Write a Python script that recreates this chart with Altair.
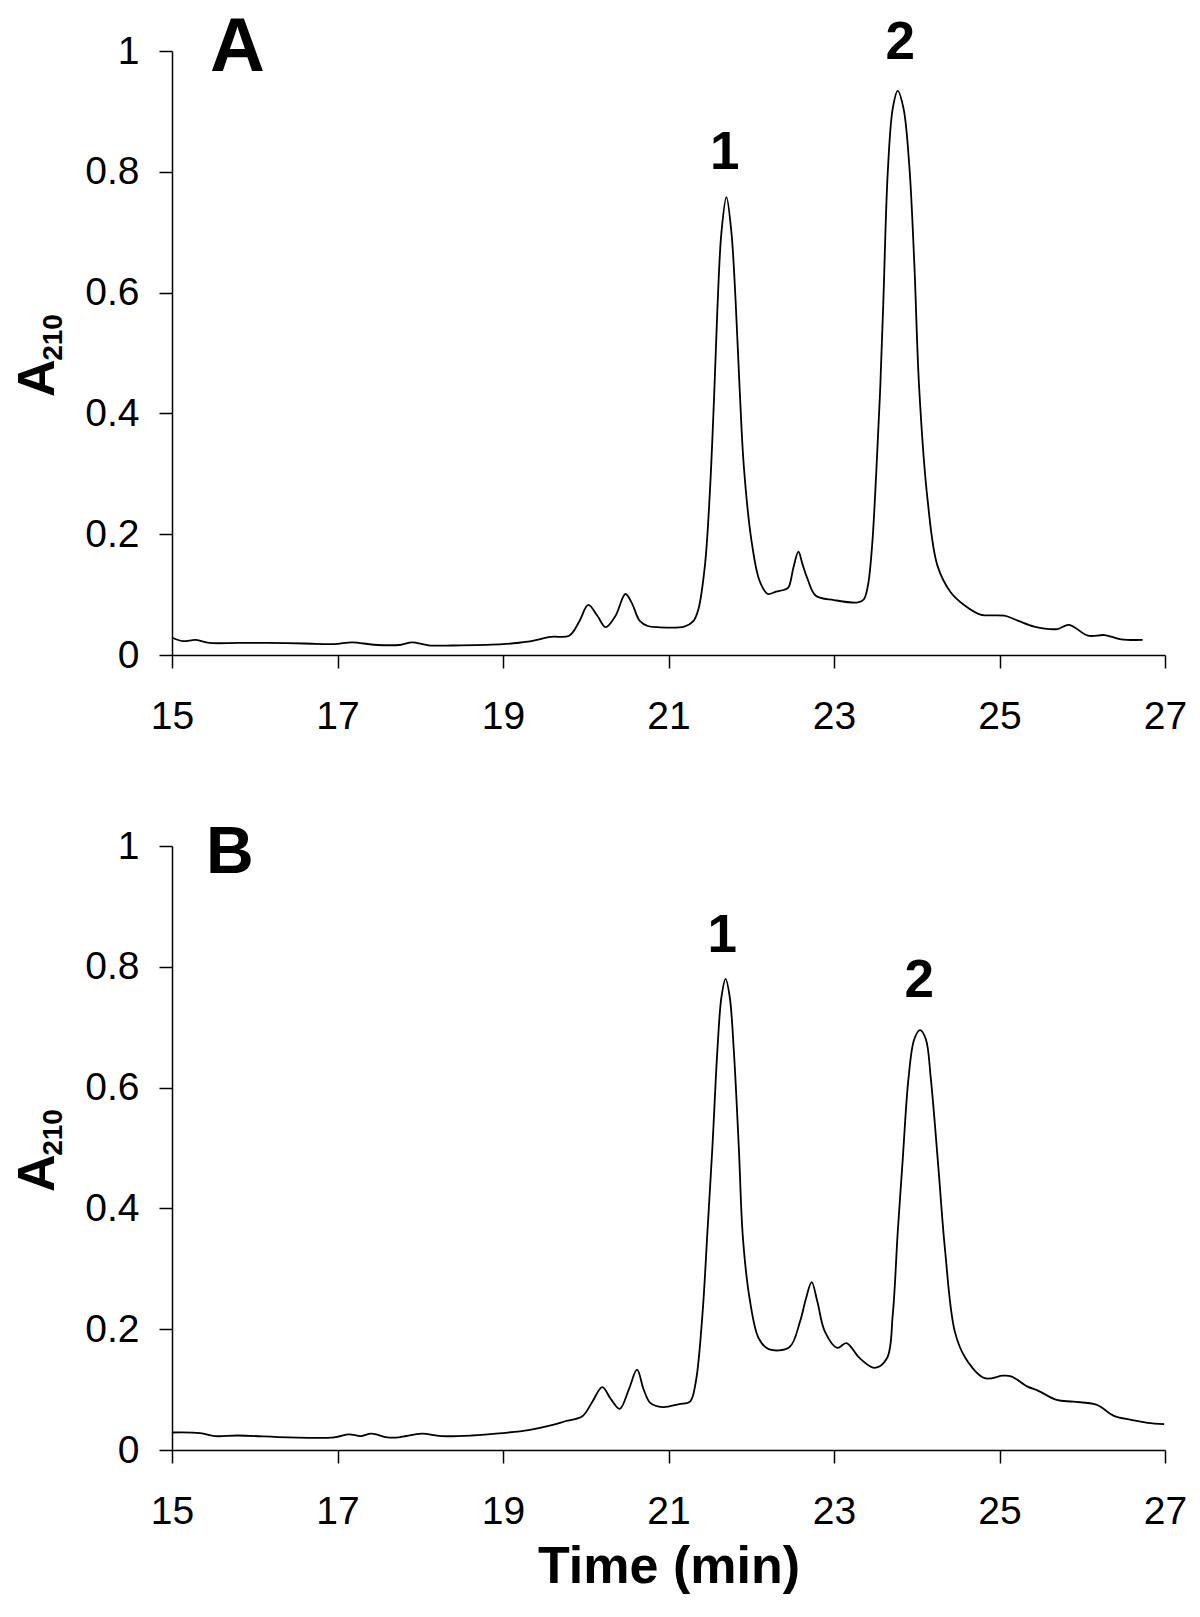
import altair as alt
import pandas as pd

# ---------------- data ----------------
XTICKS = [15, 17, 19, 21, 23, 25, 27]
YTICKS = [0, 0.2, 0.4, 0.6, 0.8, 1.0]

time_A = [15.00, 15.13, 15.29, 15.45, 15.80, 16.16, 16.60, 16.96, 17.18, 17.44, 17.77, 17.90,
          18.10, 18.50, 19.00, 19.30, 19.58, 19.80, 19.92, 20.03, 20.14, 20.24, 20.36, 20.48,
          20.56, 20.65, 20.75, 20.87, 21.19, 21.30, 21.36, 21.44, 21.50, 21.55, 21.59, 21.64,
          21.70, 21.76, 21.81, 21.86, 21.91, 22.00, 22.10, 22.20, 22.30, 22.40, 22.45, 22.51,
          22.57, 22.62, 22.68, 22.78, 23.00, 23.29, 23.36, 23.41, 23.46, 23.51, 23.555, 23.595,
          23.65, 23.71, 23.77, 23.84, 23.91, 23.97, 24.03, 24.13, 24.25, 24.41, 24.58, 24.77,
          25.06, 25.22, 25.42, 25.70, 25.84, 26.07, 26.27, 26.47, 26.73]
abs_A = [0.029, 0.023, 0.025, 0.020, 0.020, 0.020, 0.019, 0.018, 0.021, 0.017, 0.017, 0.021,
         0.016, 0.016, 0.018, 0.022, 0.030, 0.032, 0.055, 0.083, 0.065, 0.046, 0.065, 0.101,
         0.085, 0.057, 0.048, 0.046, 0.047, 0.056, 0.075, 0.148, 0.270, 0.424, 0.570, 0.700,
         0.758, 0.700, 0.589, 0.440, 0.313, 0.192, 0.123, 0.101, 0.105, 0.108, 0.112, 0.145,
         0.171, 0.150, 0.126, 0.098, 0.091, 0.087, 0.092, 0.115, 0.180, 0.300, 0.430, 0.580,
         0.800, 0.905, 0.934, 0.905, 0.810, 0.650, 0.440, 0.258, 0.148, 0.104, 0.082, 0.067,
         0.065, 0.057, 0.047, 0.043, 0.050, 0.032, 0.033, 0.026, 0.025]

time_B = [15.01, 15.34, 15.52, 15.80, 16.40, 16.96, 17.14, 17.28, 17.41, 17.60, 17.74, 18.02,
          18.25, 18.62, 18.99, 19.31, 19.59, 19.76, 19.96, 20.08, 20.20, 20.30, 20.41, 20.52,
          20.62, 20.70, 20.78, 20.93, 21.13, 21.26, 21.33, 21.41, 21.47, 21.53, 21.59, 21.64,
          21.69, 21.74, 21.79, 21.85, 21.90, 21.98, 22.09, 22.21, 22.46, 22.59, 22.66, 22.73,
          22.80, 22.89, 23.04, 23.15, 23.31, 23.49, 23.64, 23.71, 23.77, 23.83, 23.90, 23.97,
          24.04, 24.11, 24.17, 24.26, 24.34, 24.46, 24.59, 24.82, 25.04, 25.14, 25.34, 25.47,
          25.69, 25.89, 26.17, 26.39, 26.59, 26.79, 26.99]
abs_B = [0.029, 0.028, 0.023, 0.024, 0.021, 0.021, 0.026, 0.023, 0.027, 0.021, 0.021, 0.027,
         0.023, 0.024, 0.028, 0.033, 0.041, 0.048, 0.056, 0.080, 0.104, 0.085, 0.068, 0.100,
         0.133, 0.100, 0.078, 0.071, 0.076, 0.080, 0.113, 0.224, 0.360, 0.500, 0.660, 0.750,
         0.780, 0.750, 0.660, 0.500, 0.350, 0.251, 0.185, 0.167, 0.170, 0.213, 0.250, 0.278,
         0.245, 0.196, 0.169, 0.177, 0.152, 0.136, 0.152, 0.224, 0.360, 0.480, 0.615, 0.680,
         0.695, 0.680, 0.615, 0.470, 0.334, 0.196, 0.152, 0.119, 0.123, 0.122, 0.105, 0.098,
         0.083, 0.080, 0.075, 0.056, 0.050, 0.045, 0.043]

peak_names = ["1", "2"]
peak_t_A = [21.68, 23.80]
peak_y_A = [0.805, 0.987]
peak_t_B = [21.65, 24.03]
peak_y_B = [0.825, 0.750]

panel_letters = ["A", "B"]
letter_t = [15.79, 15.70]
letter_y = [0.967, 0.955]
letter_size = [76, 66]

x_title = "Time (min)"
y_title_main = "A"
y_title_sub = "210"

FONT = "Liberation Sans, Arial, Helvetica, sans-serif"


def panel(times, values, pk_t, pk_y, idx, bottom):
    xs = alt.Scale(domain=[15, 27], nice=False, zero=False)
    ys = alt.Scale(domain=[0, 1], nice=False, zero=False)
    xaxis = alt.Axis(values=XTICKS, format="d", title=x_title if bottom else None,
                     titleFont=FONT, titleFontSize=52, titleFontWeight="bold",
                     titleColor="black", titlePadding=10, labelPadding=29, labelFlush=False)
    yaxis = alt.Axis(values=YTICKS, format="~g", title=None, labelPadding=20, labelFlush=False)

    df = pd.DataFrame({"t": times, "a": values})
    line = alt.Chart(df).mark_line(color="black", strokeWidth=1.8, interpolate="catmull-rom").encode(
        x=alt.X("t:Q", scale=xs, axis=xaxis),
        y=alt.Y("a:Q", scale=ys, axis=yaxis),
    )

    pk = pd.DataFrame({"t": pk_t, "a": pk_y, "lab": peak_names})
    peaks = alt.Chart(pk).mark_text(font=FONT, fontSize=53, fontWeight="bold", color="black",
                                    align="center", baseline="alphabetic").encode(
        x=alt.X("t:Q", scale=xs), y=alt.Y("a:Q", scale=ys), text="lab:N")

    lt = pd.DataFrame({"t": [letter_t[idx]], "a": [letter_y[idx]], "lab": [panel_letters[idx]]})
    letter = alt.Chart(lt).mark_text(font=FONT, fontSize=letter_size[idx], fontWeight="bold",
                                     color="black", align="center", baseline="alphabetic").encode(
        x=alt.X("t:Q", scale=xs), y=alt.Y("a:Q", scale=ys), text="lab:N")

    ya = pd.DataFrame({"t": [13.575], "a": [0.427], "lab": [y_title_main]})
    ytm = alt.Chart(ya).mark_text(font=FONT, fontSize=52, fontWeight="bold", color="black",
                                  align="left", baseline="alphabetic", angle=270).encode(
        x=alt.X("t:Q", scale=xs), y=alt.Y("a:Q", scale=ys), text="lab:N")
    yb = pd.DataFrame({"t": [13.665], "a": [0.487], "lab": [y_title_sub]})
    yts = alt.Chart(yb).mark_text(font=FONT, fontSize=28, fontWeight="bold", color="black",
                                  align="left", baseline="alphabetic", angle=270).encode(
        x=alt.X("t:Q", scale=xs), y=alt.Y("a:Q", scale=ys), text="lab:N")

    return alt.layer(line, peaks, letter, ytm, yts).properties(width=993, height=604)


top = panel(time_A, abs_A, peak_t_A, peak_y_A, 0, False)
bot = panel(time_B, abs_B, peak_t_B, peak_y_B, 1, True)

chart = alt.vconcat(top, bot, spacing=191, bounds="flush").properties(
    padding={"left": 4, "top": 1, "right": 0, "bottom": 5},
    background="white",
).configure_view(stroke=None).configure_axis(
    grid=False, domainColor="black", domainWidth=1.5, tickColor="black", tickWidth=1.5,
    tickSize=13, labelFont=FONT, labelFontSize=39, labelColor="black",
)

chart.save("out.html", embed_options={"renderer": "svg", "actions": False})
